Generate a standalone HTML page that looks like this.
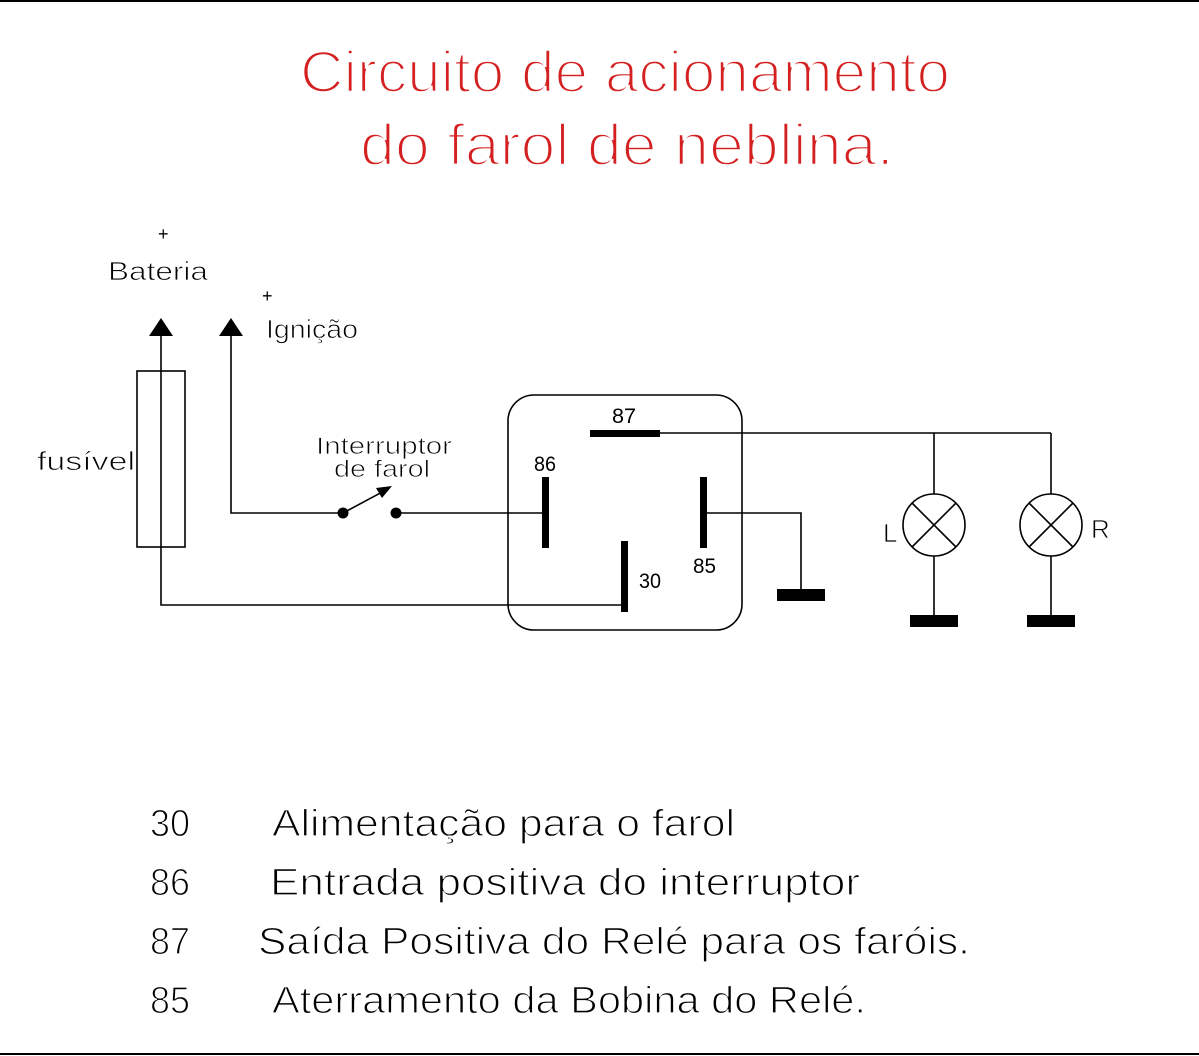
<!DOCTYPE html>
<html><head><meta charset="utf-8"><style>
html,body{margin:0;padding:0;background:#fff;}
svg{display:block;}
text{font-family:"Liberation Sans",sans-serif;}
</style></head><body>
<svg width="1199" height="1056" viewBox="0 0 1199 1056" xmlns="http://www.w3.org/2000/svg">
<rect width="1199" height="1056" fill="#fff"/>
<line x1="0" y1="1" x2="1199" y2="1" stroke="#000" stroke-width="2"/>
<line x1="0" y1="1054" x2="1199" y2="1054" stroke="#000" stroke-width="2"/>

<g stroke="#fff" stroke-width="2.4">
<text x="300" y="92" font-size="58" fill="#d42020" textLength="650" lengthAdjust="spacingAndGlyphs">Circuito de acionamento</text>
<text x="360" y="165" font-size="58" fill="#d42020" textLength="534" lengthAdjust="spacingAndGlyphs">do farol de neblina.</text>
</g>

<g fill="#000" font-size="26">
<text x="158" y="240" font-size="18">+</text>
<text x="262" y="302" font-size="18">+</text>
<text x="612" y="423" font-size="21" textLength="24" lengthAdjust="spacingAndGlyphs">87</text>
<text x="534" y="471" font-size="21" textLength="22" lengthAdjust="spacingAndGlyphs">86</text>
<text x="693" y="573" font-size="21" textLength="23" lengthAdjust="spacingAndGlyphs">85</text>
<text x="639" y="588" font-size="21" textLength="22" lengthAdjust="spacingAndGlyphs">30</text>
<g stroke="#fff" stroke-width="0.8">
<text x="108" y="280" textLength="100" lengthAdjust="spacingAndGlyphs">Bateria</text>
<text x="266" y="338" textLength="92" lengthAdjust="spacingAndGlyphs">Ignição</text>
<text x="37" y="470" textLength="98" lengthAdjust="spacingAndGlyphs">fusível</text>
<text x="316" y="454" font-size="24" textLength="136" lengthAdjust="spacingAndGlyphs">Interruptor</text>
<text x="334" y="477" font-size="24" textLength="96" lengthAdjust="spacingAndGlyphs">de farol</text>
<text x="883" y="542" font-size="26">L</text>
<text x="1091" y="538" font-size="26">R</text>
</g>
</g>

<g stroke="#000" stroke-width="1.6" fill="none">
<polyline points="161,336 161,605 625,605"/>
<rect x="137" y="371" width="48" height="176"/>
<polyline points="231,336 231,513 343,513"/>
<line x1="396" y1="513" x2="545" y2="513"/>
<line x1="343" y1="513" x2="386" y2="490"/>
<rect x="508" y="395" width="234" height="235" rx="26"/>
<line x1="660" y1="433" x2="1051" y2="433"/>
<line x1="934" y1="433" x2="934" y2="494"/>
<line x1="1051" y1="433" x2="1051" y2="494"/>
<line x1="934" y1="556" x2="934" y2="615"/>
<line x1="1051" y1="556" x2="1051" y2="615"/>
<circle cx="934" cy="525" r="31"/>
<circle cx="1051" cy="525" r="31"/>
<line x1="912" y1="503" x2="956" y2="547"/><line x1="956" y1="503" x2="912" y2="547"/>
<line x1="1029" y1="503" x2="1073" y2="547"/><line x1="1073" y1="503" x2="1029" y2="547"/>
<polyline points="707,513 801,513 801,590"/>
</g>

<g fill="#000">
<polygon points="161,318 149,336 173,336"/>
<polygon points="231,318 219,336 243,336"/>
<circle cx="343" cy="513" r="5.5"/>
<circle cx="396" cy="513" r="5.5"/>
<polygon points="392,486 376,488 382,498"/>
<rect x="590" y="430" width="70" height="7"/>
<rect x="542" y="477" width="7" height="71"/>
<rect x="700" y="477" width="7" height="71"/>
<rect x="621" y="541" width="7" height="71"/>
<rect x="777" y="589" width="48" height="12"/>
<rect x="910" y="615" width="48" height="12"/>
<rect x="1027" y="615" width="48" height="12"/>
</g>

<g fill="#000" font-size="38" stroke="#fff" stroke-width="1.2">
<text x="150" y="836" textLength="40" lengthAdjust="spacingAndGlyphs">30</text>
<text x="272" y="836" textLength="463" lengthAdjust="spacingAndGlyphs">Alimentação para o farol</text>
<text x="150" y="895" textLength="40" lengthAdjust="spacingAndGlyphs">86</text>
<text x="270" y="895" textLength="590" lengthAdjust="spacingAndGlyphs">Entrada positiva do interruptor</text>
<text x="150" y="954" textLength="40" lengthAdjust="spacingAndGlyphs">87</text>
<text x="258" y="954" textLength="712" lengthAdjust="spacingAndGlyphs">Saída Positiva do Relé para os faróis.</text>
<text x="150" y="1013" textLength="40" lengthAdjust="spacingAndGlyphs">85</text>
<text x="272" y="1013" textLength="594" lengthAdjust="spacingAndGlyphs">Aterramento da Bobina do Relé.</text>
</g>
</svg>
</body></html>
